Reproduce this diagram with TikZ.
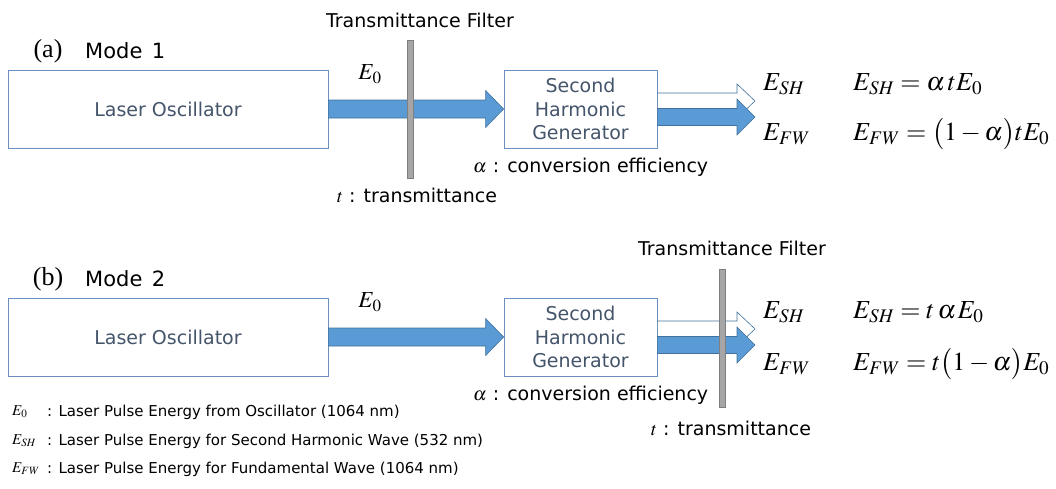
\documentclass[tikz,border=0pt]{standalone}
\usepackage{mathptmx}
\usepackage{fontspec}
\setmainfont{Liberation Serif}
\setsansfont{DejaVu Sans}
\usetikzlibrary{calc}

\definecolor{beamblue}{HTML}{5B9BD5}
\definecolor{beamedge}{HTML}{41719C}
\definecolor{boxedge}{HTML}{6A8FC0}
\definecolor{boxtext}{HTML}{44546A}
\definecolor{filtergray}{HTML}{A6A6A6}
\definecolor{filteredge}{HTML}{7F7F7F}

% #1 style, #2 tail, #3 tip, #4 half shaft, #5 half head
\newcommand{\beam}[5]{%
  \filldraw[#1] ($(#2)+(0,-#4)$) -- ($(#3)+(-18,-#4)$) -- ($(#3)+(-18,-#5)$) -- (#3)
    -- ($(#3)+(-18,#5)$) -- ($(#3)+(-18,#4)$) -- ($(#2)+(0,#4)$) -- cycle;}

\begin{document}
\begin{tikzpicture}[x=1pt, y=-1pt,
    box/.style={draw=boxedge, line width=0.8pt, minimum height=78pt, inner sep=0pt,
      text=boxtext, align=center, font=\sffamily\fontsize{19}{23.5}\selectfont},
    label/.style={inner sep=0pt, font=\sffamily\fontsize{19}{23}\selectfont},
    mode/.style={inner sep=0pt, anchor=west, font=\sffamily\fontsize{21}{24}\selectfont},
    tag/.style={inner sep=0pt, font=\fontsize{26}{30}\selectfont},
    filter/.style={draw=filteredge, fill=filtergray, line width=0.6pt,
      minimum width=6pt, minimum height=138pt, inner sep=0pt},
    beam/.style={fill=beamblue, draw=beamedge, line width=0.6pt, line join=miter},
    hollow/.style={fill=white, draw=beamedge, line width=0.6pt, line join=miter},
    energy/.style={inner sep=0pt, anchor=west, font=\fontsize{26}{30}\selectfont},
    legend/.style={inner sep=0pt, anchor=west, font=\sffamily\fontsize{15}{17}\selectfont}]
  \useasboundingbox (0,0) rectangle (1056,488);

  % (a) mode 1
  \node[tag] (tagA) at (48,51) {(a)};
  \node[mode] (modeA) at (85,51) {Mode\hspace{0.45em}1};
  \node[box, minimum width=320pt] (laserA) at (168,109) {Laser Oscillator};
  \node[box, minimum width=153pt] (shgA) at (580.5,109) {Second\\Harmonic\\Generator};
  \beam{beam}{laserA.east}{shgA.west}{9}{18.5}
  \node[filter] (filterA) at (410,109) {};
  \node[label] (filterlabA) at (420,20) {Transmittance Filter};
  \node[inner sep=0pt, font=\fontsize{23}{26}\selectfont] (eA) at (370,74) {$E_0$};
  \node[label] (tA) at (417,195) {$t$ : transmittance};
  \node[label, anchor=west] (alphaA) at (473,167) {$\alpha$ : conversion efficiency};
  \coordinate (shA) at (755,101);
  \coordinate (fwA) at (755,117);
  \beam{hollow}{shgA.east |- shA}{shA}{8}{17}
  \beam{beam}{shgA.east |- fwA}{fwA}{8.5}{18}
  \node[energy] (eshA) at (763,84) {$E_{SH}$};
  \node[energy] (efwA) at (763,134) {$E_{FW}$};
  \node[energy] (eqshA) at (853,84) {$E_{SH} = \alpha\mkern2mu t E_0$};
  \node[energy] (eqfwA) at (853,134) {$E_{FW} = \bigl(1-\alpha\bigr)tE_0$};

  % (b) mode 2
  \node[tag] (tagB) at (48,279) {(b)};
  \node[mode] (modeB) at (85,279) {Mode\hspace{0.45em}2};
  \node[box, minimum width=320pt] (laserB) at (168,337) {Laser Oscillator};
  \node[box, minimum width=153pt] (shgB) at (580.5,337) {Second\\Harmonic\\Generator};
  \beam{beam}{laserB.east}{shgB.west}{9}{18.5}
  \node[inner sep=0pt, font=\fontsize{23}{26}\selectfont] (eB) at (370,302) {$E_0$};
  \node[label, anchor=west] (alphaB) at (473,395) {$\alpha$ : conversion efficiency};
  \coordinate (shB) at (755,329);
  \coordinate (fwB) at (755,345);
  \beam{hollow}{shgB.east |- shB}{shB}{8}{17}
  \beam{beam}{shgB.east |- fwB}{fwB}{8.5}{18}
  \node[filter] (filterB) at (722.5,338) {};
  \node[label] (filterlabB) at (732,248) {Transmittance Filter};
  \node[label] (tB) at (731,428) {$t$ : transmittance};
  \node[energy] (eshB) at (763,312) {$E_{SH}$};
  \node[energy] (efwB) at (763,364) {$E_{FW}$};
  \node[energy] (eqshB) at (853,312) {$E_{SH} = t\mkern2mu\alpha\mkern1mu E_0$};
  \node[energy] (eqfwB) at (853,364) {$E_{FW} = t\bigl(1-\alpha\bigr)E_0$};

  % legend
  \node[legend] (legE) at (12,412) {$E_0$};
  \node[legend] (legEtext) at (47,412) {: Laser Pulse Energy from Oscillator (1064 nm)};
  \node[legend] (legSH) at (12,441) {$E_{SH}$};
  \node[legend] (legSHtext) at (47,441) {: Laser Pulse Energy for Second Harmonic Wave (532 nm)};
  \node[legend] (legFW) at (12,469) {$E_{FW}$};
  \node[legend] (legFWtext) at (47,469) {: Laser Pulse Energy for Fundamental Wave (1064 nm)};
\end{tikzpicture}
\end{document}
